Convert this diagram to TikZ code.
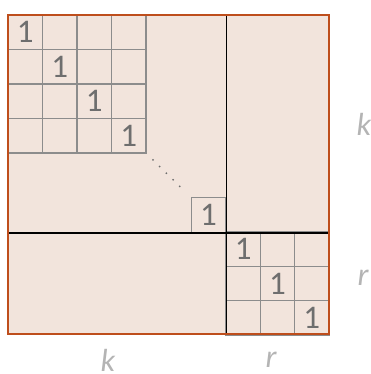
\documentclass[tikz,border=0pt]{standalone}
\usepackage{fontspec}
\setsansfont{Carlito}
\usetikzlibrary{positioning,calc}
\definecolor{peach}{RGB}{242,228,220}
\definecolor{rust}{RGB}{190,78,28}
\definecolor{cellgray}{RGB}{140,140,140}
\definecolor{digit}{RGB}{110,110,110}
\definecolor{dimlabel}{RGB}{180,180,180}
\tikzset{
  cell/.style={draw=cellgray,line width=1.2pt,minimum size=#1,inner sep=0pt,
    font=\sffamily\fontsize{33}{33}\selectfont,text=digit},
  cell/.default=34.5pt,
  divider/.style={line width=1.6pt,draw=black},
  frame/.style={line width=1.8pt,draw=rust},
  dim/.style={font=\sffamily\itshape\fontsize{32}{32}\selectfont,text=dimlabel,inner sep=0pt},
}
\begin{document}
\begin{tikzpicture}[x=1pt,y=-1pt]
  \useasboundingbox (0,0) rectangle (371,374);
  \coordinate (nw) at (8,15);
  \coordinate (se) at (329,334);
  \fill[peach] (nw) rectangle (se);
  % upper left identity block
  \foreach \i in {0,...,3} \foreach \j in {0,...,3}
    \node[cell] (a\i\j) at (25.25+34.5*\j,32.25+34.5*\i) {\ifnum\i=\j\relax 1\fi};
  \node[cell] (last) at (208.5,215) {1};
  \draw[digit,line width=2pt,line cap=round,dash pattern=on 0pt off 9.4pt,
    shorten <=9pt,shorten >=6pt] (a33.south east) -- (last.north west);
  % lower right identity block
  \foreach \i in {0,...,2} \foreach \j in {0,...,2}
    \node[cell=34.3pt] (b\i\j) at (243.15+34.3*\j,249.15+34.3*\i) {\ifnum\i=\j\relax 1\fi};
  \draw[divider] (nw -| last.east) -- (se -| last.east);
  \draw[divider] (nw |- last.south) -- (se |- last.south);
  \draw[frame] (nw) rectangle (se);
  % sizes
  \node[dim] (kr) at (364,124) {k};
  \node[dim] (rr) at (363,278) {r};
  \node[dim] (kb) at (108,360) {k};
  \node[dim] (rb) at (271,360) {r};
\end{tikzpicture}
\end{document}
